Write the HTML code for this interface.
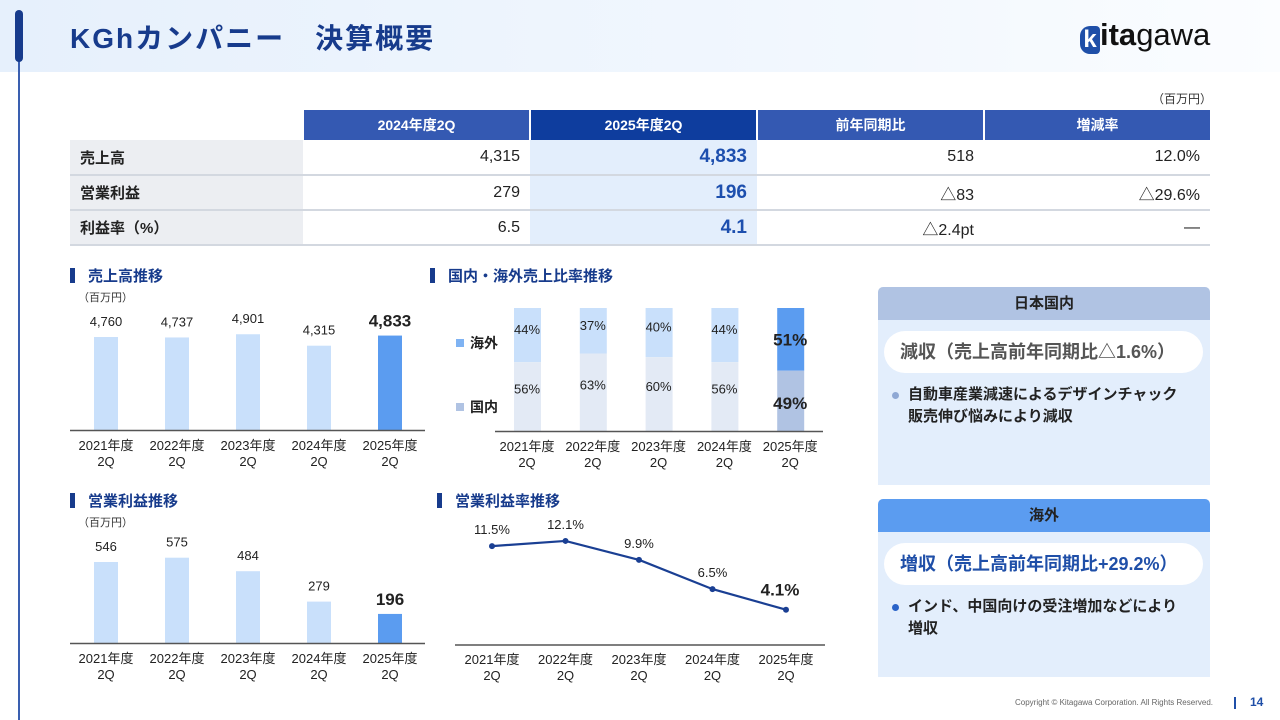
<!DOCTYPE html>
<html><head><meta charset="utf-8"><style>
*{margin:0;padding:0;box-sizing:border-box}
body{width:1280px;height:720px;overflow:hidden;background:#fff;font-family:"Liberation Sans","Noto Sans CJK JP",sans-serif;position:relative;color:#222}
.abs{position:absolute}
table{border-collapse:collapse;position:absolute;left:70px;top:110px;width:1140px;font-size:16px;table-layout:fixed}
th{height:30px;color:#fff;font-weight:bold;font-size:14px;text-align:center;border-left:2px solid #fff;padding:0}
td{height:35px;border-bottom:2px solid #d3d8e0;text-align:right;padding:0 10px 0 0;vertical-align:middle}
td.l{background:#eceef2;text-align:left;padding-left:10px;font-weight:bold;font-size:15px}
td.h{background:#e3eefc;color:#1d4fae;font-weight:bold;font-size:19px}
.panel{position:absolute;left:878px;width:332px;background:#e3eefc;border-radius:5px 5px 0 0;overflow:hidden}
.ph{height:33px;text-align:center;line-height:33px;font-weight:bold;font-size:15px;color:#222}
.pill{position:absolute;left:6px;width:319px;height:42px;background:#fff;border-radius:21px;font-size:18px;font-weight:bold;line-height:42px;padding-left:16px;white-space:nowrap}
.bul{position:absolute;left:30px;width:276px;font-size:15px;font-weight:bold;line-height:22px;color:#222}
.dot{position:absolute;left:14px;width:7px;height:7px;border-radius:50%}
</style></head><body>
<div class="abs" style="left:0;top:0;width:1280px;height:72px;background:linear-gradient(90deg,#e6f0fc,#f3f8fe 70%,#fbfdff)"></div>
<div class="abs" style="left:18px;top:30px;width:2px;height:690px;background:#3a5fb0"></div>
<div class="abs" style="left:15px;top:10px;width:8px;height:52px;border-radius:4px;background:#173b8c"></div>
<div class="abs" style="left:70px;top:17px;font-size:28px;font-weight:bold;color:#173b8c;letter-spacing:2px">KGhカンパニー　決算概要</div>
<div class="abs" style="left:1080px;top:17px;font-size:31px;color:#111"><span style="display:inline-block;width:20px;height:28px;background:#1f4fa8;border-radius:10px 4px 4px 10px;color:#fff;font-weight:bold;text-align:center;line-height:28px;font-size:24px;vertical-align:-2px">k</span><b>ita</b>gawa</div>
<div class="abs" style="left:1152px;top:90px;font-size:12px;color:#333">（百万円）</div>
<table>
<colgroup><col style="width:233px"><col style="width:227px"><col style="width:227px"><col style="width:227px"><col style="width:226px"></colgroup>
<tr><th style="background:#fff;border:none"></th><th style="background:#3459b2">2024年度2Q</th><th style="background:#0e3d9e">2025年度2Q</th><th style="background:#3459b2">前年同期比</th><th style="background:#3459b2">増減率</th></tr>
<tr><td class="l">売上高</td><td>4,315</td><td class="h">4,833</td><td>518</td><td>12.0%</td></tr>
<tr><td class="l">営業利益</td><td>279</td><td class="h">196</td><td>△83</td><td>△29.6%</td></tr>
<tr><td class="l">利益率（%）</td><td>6.5</td><td class="h">4.1</td><td>△2.4pt</td><td>―</td></tr>
</table>

<svg class="abs" style="left:0;top:0" width="1280" height="720" font-family="Liberation Sans, Noto Sans CJK JP, sans-serif">
<g id="titles"></g>
<g id="c1"></g><g id="c2"></g><g id="c3"></g><g id="c4"></g>
</svg>

<div class="panel" style="top:287px;height:198px">
<div class="ph" style="background:#b0c3e3">日本国内</div>
<div class="pill" style="top:44px;color:#555">減収（売上高前年同期比△1.6%）</div>
<div class="dot" style="top:105px;background:#8fa8d4"></div>
<div class="bul" style="top:97px">自動車産業減速によるデザインチャック販売伸び悩みにより減収</div>
</div>
<div class="panel" style="top:499px;height:178px">
<div class="ph" style="background:#5b9cf0">海外</div>
<div class="pill" style="top:44px;color:#1f4fa8">増収（売上高前年同期比+29.2%）</div>
<div class="dot" style="top:105px;background:#2a63c8"></div>
<div class="bul" style="top:97px">インド、中国向けの受注増加などにより増収</div>
</div>
<div class="abs" style="left:1015px;top:698px;font-size:8px;color:#666">Copyright © Kitagawa Corporation. All Rights Reserved.</div>
<div class="abs" style="left:1234px;top:697px;width:2px;height:12px;background:#1f4fa8"></div>
<div class="abs" style="left:1250px;top:695px;font-size:12px;font-weight:bold;color:#1f4fa8">14</div>

<script>
const categories=['2021年度','2022年度','2023年度','2024年度','2025年度'];
const salesValues=[4760,4737,4901,4315,4833];
const salesLabels=['4,760','4,737','4,901','4,315','4,833'];
const overseasShare=[44,37,40,44,51];
const domesticShare=[56,63,60,56,49];
const profitValues=[546,575,484,279,196];
const profitLabels=['546','575','484','279','196'];
const marginValues=[11.5,12.1,9.9,6.5,4.1];
const marginLabels=['11.5%','12.1%','9.9%','6.5%','4.1%'];
const NS='http://www.w3.org/2000/svg';
function mk(p,tag,a,txt){const e=document.createElementNS(NS,tag);for(const k in a)e.setAttribute(k,a[k]);if(txt!=null)e.textContent=txt;p.appendChild(e);return e;}
const T=document.getElementById('titles');
[[70,276,'売上高推移',true],[430,276,'国内・海外売上比率推移',false],[70,501,'営業利益推移',true],[437,501,'営業利益率推移',false]].forEach(t=>{
 const r=mk(T,'rect',{x:t[0],y:t[1]-8,width:5,height:15,fill:'#173b8c'});
 
 
 const tx=mk(T,'text',{x:t[0]+18,y:t[1]+5,'font-size':15,'font-weight':'bold',fill:'#173b8c'},t[2]);
 
 
 if(t[3]){const u=mk(T,'text',{x:t[0]+8,y:t[1]+25,'font-size':11,fill:'#333'},'（百万円）');
 
 }
});
function xLabels(g,xs,y){categories.forEach((c,i)=>{
 const a=mk(g,'text',{x:xs(i),y:y,'text-anchor':'middle','font-size':13,fill:'#222'},c);
 
 
 mk(g,'text',{x:xs(i),y:y+16,'text-anchor':'middle','font-size':13,fill:'#222'},'2Q');});}
function barChart(id,vals,labels,base,scale){
 const g=document.getElementById(id);const xs=i=>106+i*71;
 vals.forEach((v,i)=>{const h=v*scale;const last=i===vals.length-1;
  const b=mk(g,'rect',{x:xs(i)-12,y:base-h,width:24,height:h,fill:last?'#5b9cf0':'#c9e0fb'});
  
  
  const l=mk(g,'text',{x:xs(i),y:base-h-(last?9:11),'text-anchor':'middle','font-size':last?17:13,'font-weight':last?'bold':'normal',fill:'#222'},labels[i]);
  
  });
 const ax=mk(g,'line',{x1:70,x2:425,y1:base+0.5,y2:base+0.5,stroke:'#555','stroke-width':1.5});
 
 
 xLabels(g,xs,base+20);}
barChart('c1',salesValues,salesLabels,430,93/4760);
barChart('c3',profitValues,profitLabels,643,81/546);
(function(){const g=document.getElementById('c2');const xs=i=>527+i*65.8;const top=308,base=431,H=base-top;
 categories.forEach((c,i)=>{const last=i===4;const tot=overseasShare[i]+domesticShare[i];
  const ho=H*overseasShare[i]/tot;
  const o=mk(g,'rect',{x:xs(i)-13,y:top,width:27,height:ho,fill:last?'#5b9cf0':'#c9e0fb'});
  
  
  const d=mk(g,'rect',{x:xs(i)-13,y:top+ho,width:27,height:H-ho,fill:last?'#b0c3e3':'#e3eaf5'});
  
  
  const fs=last?17:13,fw=last?'bold':'normal';
  mk(g,'text',{x:xs(i),y:top+ho/2+(last?6:-1),'text-anchor':'middle','font-size':fs,'font-weight':fw,fill:'#222'},overseasShare[i]+'%');
  mk(g,'text',{x:xs(i),y:top+ho+(H-ho)/2+(last?8:-3),'text-anchor':'middle','font-size':fs,'font-weight':fw,fill:'#222'},domesticShare[i]+'%');});
 const ax=mk(g,'line',{x1:495,x2:823,y1:base+0.5,y2:base+0.5,stroke:'#555','stroke-width':1.5});
 
 
 const l1=mk(g,'rect',{x:456,y:339,width:8,height:8,fill:'#7fb3f3'});
 
 
 mk(g,'text',{x:470,y:348,'font-size':14,'font-weight':'bold',fill:'#222'},'海外');
 const l2=mk(g,'rect',{x:456,y:403,width:8,height:8,fill:'#b0c3e3'});
 
 
 mk(g,'text',{x:470,y:412,'font-size':14,'font-weight':'bold',fill:'#222'},'国内');
 xLabels(g,xs,451);})();
(function(){const g=document.getElementById('c4');const xs=i=>492+i*73.5;const base=645,sc=8.6;const ys=v=>base-v*sc;
 const pts=marginValues.map((v,i)=>xs(i)+','+ys(v)).join(' ');
 const pl=mk(g,'polyline',{points:pts,fill:'none',stroke:'#1a3f93','stroke-width':2.2});
 
 
 marginValues.forEach((v,i)=>{const last=i===4;
  const c=mk(g,'circle',{cx:xs(i),cy:ys(v),r:3,fill:'#1a3f93'});
  
  
  const t=mk(g,'text',{x:xs(i)-(last?6:0),y:ys(v)-(last?14:12),'text-anchor':'middle','font-size':last?17:13,'font-weight':last?'bold':'normal',fill:'#222'},marginLabels[i]);
  
  });
 const ax=mk(g,'line',{x1:455,x2:825,y1:base,y2:base,stroke:'#555','stroke-width':1.5});
 
 
 xLabels(g,xs,664);})();
</script>
</body></html>
